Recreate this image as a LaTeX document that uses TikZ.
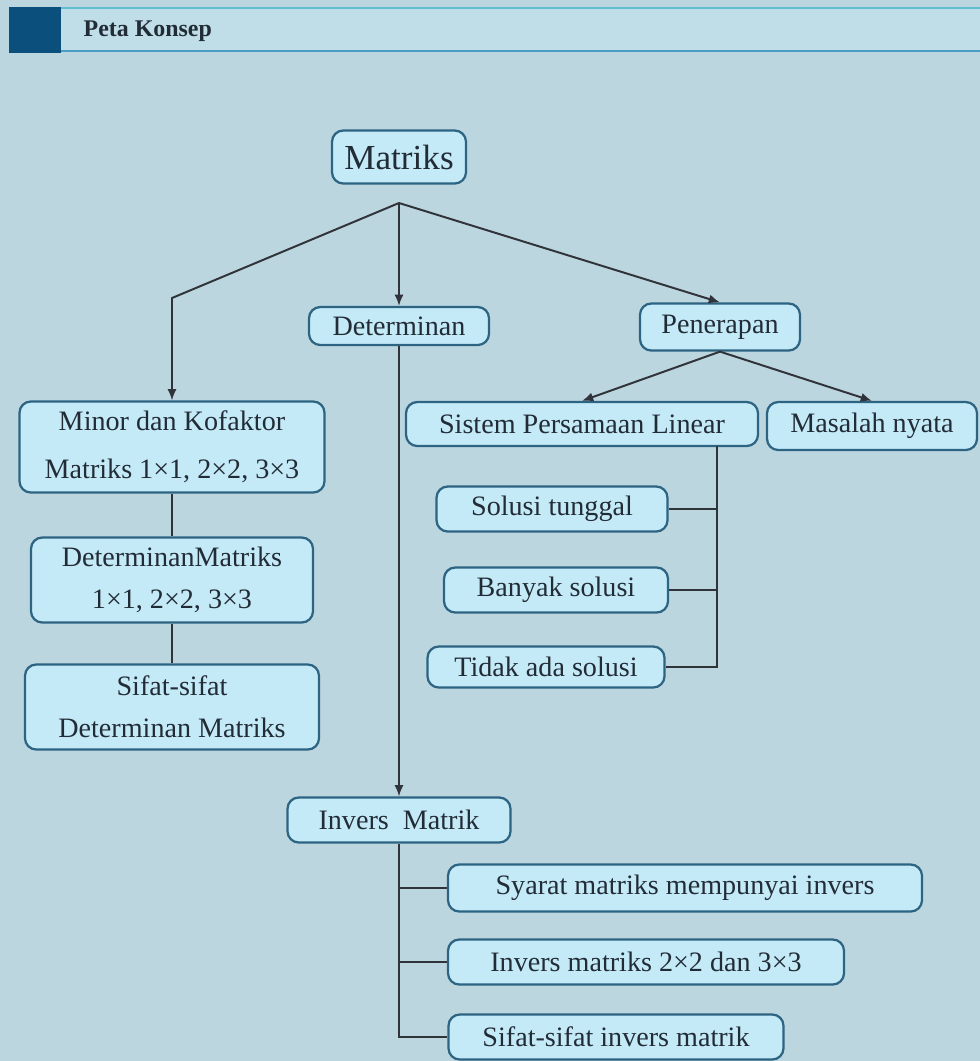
\documentclass[tikz,border=0pt]{standalone}
\usepackage{fontspec}
\setmainfont{Liberation Serif}
\usepackage{tikz}
\usetikzlibrary{calc}
\usetikzlibrary{arrows.meta}
\definecolor{latar}{RGB}{188,214,224}
\definecolor{pitaisi}{RGB}{192,222,232}
\definecolor{isi}{RGB}{196,234,248}
\definecolor{tepi}{RGB}{44,100,130}
\definecolor{garis}{RGB}{48,52,58}
\definecolor{teks}{RGB}{34,44,54}
\definecolor{pita}{RGB}{11,79,124}
\definecolor{garisatas}{RGB}{96,190,206}
\definecolor{garisbawah}{RGB}{74,156,196}
\tikzstyle{konsep}=[draw=tepi,fill=isi,line width=1.6pt,rounded corners=8pt,inner sep=0pt,align=center,text=teks,font=\fontsize{20}{30}\selectfont]
\tikzset{ukuran/.style 2 args={minimum width=#1*0.025cm,minimum height=#2*0.025cm}}

\begin{document}
\begin{tikzpicture}[->,>={Latex[length=8pt,width=6.5pt]},x=0.025cm,y=-0.025cm,line width=1.4pt,draw=garis]
	\useasboundingbox (0,0) rectangle (980,1061);
	\fill[latar] (0,0) rectangle (980,1061);
	% judul
	\fill[pitaisi] (60,8) rectangle (980,51);
	\draw[-,garisatas,line width=2pt] (60,8) -- (980,8);
	\draw[-,garisbawah,line width=2pt] (60,51) -- (980,51);
	\fill[pita] (9,7) rectangle (61,53);
	\node[anchor=west,text=teks,font=\fontsize{17}{20}\selectfont\bfseries] (judul) at (78,31) {Peta Konsep};

	\node[konsep,ukuran={134}{53},font=\fontsize{25}{30}\selectfont] (matriks) at (399,157) {Matriks};
	\node[konsep,ukuran={180}{38}] (det) at (399,326) {Determinan};
	\node[konsep,ukuran={160}{47}] (terap) at (720,327) {Penerapan};
	\node[konsep,ukuran={305}{91},font=\fontsize{20}{34}\selectfont] (minor) at (172,447) {Minor dan Kofaktor\\Matriks 1×1, 2×2, 3×3};
	\node[konsep,ukuran={282}{85}] (detmat) at (172,580) {DeterminanMatriks\\1×1, 2×2, 3×3};
	\node[konsep,ukuran={294}{85}] (sifatdet) at (172,707) {Sifat-sifat\\Determinan Matriks};
	\node[konsep,ukuran={352}{44}] (spl) at (582,424) {Sistem Persamaan Linear};
	\node[konsep,ukuran={210}{48}] (nyata) at (872,426) {Masalah nyata};
	\node[konsep,ukuran={231}{45}] (tunggal) at (552,509) {Solusi tunggal};
	\node[konsep,ukuran={224}{45}] (banyak) at (556,590) {Banyak solusi};
	\node[konsep,ukuran={237}{41}] (tidak) at (546,667) {Tidak ada solusi};
	\node[konsep,ukuran={223}{45}] (invers) at (399,820) {Invers~ Matrik};
	\node[konsep,ukuran={474}{47}] (syarat) at (685,888) {Syarat matriks mempunyai invers};
	\node[konsep,ukuran={396}{45}] (inv23) at (646,962) {Invers matriks 2×2 dan 3×3};
	\node[konsep,ukuran={335}{45}] (sifatinv) at (616,1037) {Sifat-sifat invers matrik};

	\coordinate (cabang) at (399,203);
	\coordinate (rel) at (717,446);

	\draw (cabang) -- (minor.north |- 0,298) -- (minor.north);
	\path
		(cabang)	edge[]		(det.north)
		(cabang)	edge[]		(terap.north)
		(det)	edge[]		(invers)
		(terap.south)	edge[]		(spl.north)
		(terap.south)	edge[]		(nyata.north)
		(minor)	edge[-]		(detmat)
		(detmat)	edge[-]		(sifatdet);
	% cabang solusi
	\draw[-] (rel) |- (tidak.east);
	\draw[-] (tunggal.east) -- (tunggal.east -| rel);
	\draw[-] (banyak.east) -- (banyak.east -| rel);
	% cabang invers
	\draw[-] (invers.south) |- (sifatinv.west);
	\draw[-] (syarat.west) -- (syarat.west -| invers.south);
	\draw[-] (inv23.west) -- (inv23.west -| invers.south);
\end{tikzpicture}
\end{document}
